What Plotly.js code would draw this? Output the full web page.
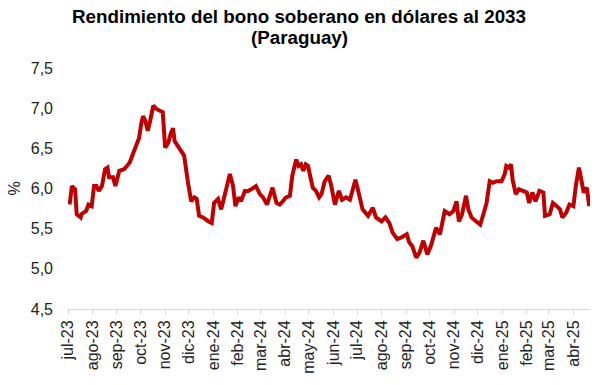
<!DOCTYPE html>
<html>
<head>
<meta charset="utf-8">
<script src="https://cdn.plot.ly/plotly-3.0.1.min.js"></script>
<style>html,body{margin:0;padding:0;background:#fff;}#chart{width:606px;height:385px;}</style>
</head>
<body>
<div id="chart"></div>
<script>
// Fecha / rendimiento (%)
const dates = [
 "2023-07-03","2023-07-06","2023-07-10","2023-07-12","2023-07-17","2023-07-18","2023-07-24","2023-07-27","2023-07-31",
 "2023-08-03","2023-08-06","2023-08-09","2023-08-13","2023-08-17","2023-08-20","2023-08-22","2023-08-27","2023-08-30",
 "2023-09-04","2023-09-10","2023-09-17","2023-09-23","2023-09-29",
 "2023-10-02","2023-10-04","2023-10-07","2023-10-10","2023-10-13","2023-10-17","2023-10-21","2023-10-25","2023-10-29",
 "2023-11-01","2023-11-05","2023-11-08","2023-11-11","2023-11-13","2023-11-19","2023-11-25","2023-11-30",
 "2023-12-04","2023-12-08","2023-12-11","2023-12-14","2023-12-19","2023-12-26","2023-12-30",
 "2024-01-02","2024-01-07","2024-01-11","2024-01-15","2024-01-19","2024-01-22","2024-01-26","2024-01-29",
 "2024-02-02","2024-02-05","2024-02-10","2024-02-14","2024-02-18","2024-02-24","2024-02-29",
 "2024-03-04","2024-03-09","2024-03-13","2024-03-16","2024-03-21","2024-03-25","2024-03-29",
 "2024-04-02","2024-04-07","2024-04-10","2024-04-15","2024-04-18","2024-04-21","2024-04-24","2024-04-27","2024-04-30",
 "2024-05-03","2024-05-06","2024-05-10","2024-05-14","2024-05-17","2024-05-21","2024-05-26","2024-05-29",
 "2024-06-03","2024-06-08","2024-06-12","2024-06-17","2024-06-22","2024-06-26","2024-06-29",
 "2024-07-02","2024-07-08","2024-07-15","2024-07-21","2024-07-25",
 "2024-08-01","2024-08-06","2024-08-11","2024-08-15","2024-08-21","2024-08-26",
 "2024-09-02","2024-09-05","2024-09-09","2024-09-14","2024-09-18","2024-09-23","2024-09-28",
 "2024-10-03","2024-10-09","2024-10-14","2024-10-20","2024-10-26","2024-10-31",
 "2024-11-04","2024-11-07","2024-11-11","2024-11-16","2024-11-19","2024-11-23","2024-11-29",
 "2024-12-04","2024-12-08","2024-12-12","2024-12-16","2024-12-20","2024-12-25","2024-12-31",
 "2025-01-04","2025-01-06","2025-01-09","2025-01-12","2025-01-14","2025-01-18","2025-01-22","2025-01-28",
 "2025-02-01","2025-02-04","2025-02-08","2025-02-12","2025-02-17","2025-02-22","2025-02-24",
 "2025-03-02","2025-03-06","2025-03-11","2025-03-15","2025-03-18","2025-03-23","2025-03-27",
 "2025-04-01","2025-04-04","2025-04-08","2025-04-11","2025-04-14","2025-04-18","2025-04-21"
];
const yields = [
 5.80,6.03,5.99,5.68,5.64,5.68,5.72,5.80,5.78,
 6.03,6.03,5.97,6.03,6.24,6.26,6.14,6.14,6.03,
 6.22,6.24,6.32,6.47,6.63,
 6.82,6.90,6.84,6.72,6.84,7.03,6.99,6.97,6.95,
 6.51,6.57,6.68,6.75,6.59,6.50,6.41,6.07,
 5.84,5.89,5.87,5.66,5.64,5.59,5.57,
 5.82,5.87,5.74,5.89,6.03,6.18,6.03,5.78,
 5.89,5.84,5.97,5.97,5.99,6.03,5.93,
 5.89,5.80,5.91,6.01,5.82,5.80,5.84,
 5.89,5.91,6.16,6.36,6.28,6.30,6.22,6.30,6.28,
 6.14,6.01,5.97,5.89,5.93,6.09,6.16,6.05,
 5.80,5.97,5.86,5.89,5.86,5.99,6.11,
 5.99,5.74,5.66,5.76,5.64,
 5.59,5.64,5.57,5.45,5.37,5.39,
 5.43,5.33,5.28,5.14,5.20,5.35,5.18,
 5.30,5.51,5.43,5.72,5.68,5.72,
 5.84,5.59,5.68,5.91,5.74,5.64,5.59,
 5.55,5.68,5.82,6.09,6.07,6.09,6.09,
 6.18,6.28,6.26,6.30,6.11,5.93,5.99,5.97,
 5.95,5.82,5.95,5.84,5.97,5.95,5.66,
 5.68,5.82,5.78,5.74,5.64,5.70,5.80,
 5.78,6.03,6.26,6.11,5.95,6.01,5.78
];
const tickDates = ["2023-07-01","2023-08-01","2023-09-01","2023-10-01","2023-11-01","2023-12-01",
 "2024-01-01","2024-02-01","2024-03-01","2024-04-01","2024-05-01","2024-06-01","2024-07-01",
 "2024-08-01","2024-09-01","2024-10-01","2024-11-01","2024-12-01","2025-01-01","2025-02-01",
 "2025-03-01","2025-04-01"];
const tickLabels = ["jul-23","ago-23","sep-23","oct-23","nov-23","dic-23","ene-24","feb-24","mar-24",
 "abr-24","may-24","jun-24","jul-24","ago-24","sep-24","oct-24","nov-24","dic-24","ene-25","feb-25",
 "mar-25","abr-25"];
const yTicks = [4.5,5.0,5.5,6.0,6.5,7.0,7.5];
const titleLines = ["Rendimiento del bono soberano en dólares al 2033", "(Paraguay)"];

const font = "Liberation Sans, Arial, sans-serif";
const titleFont = {family: font, size: 18.8, color: "#000"};
Plotly.newPlot("chart", [{
  x: dates, y: yields, type: "scatter", mode: "lines",
  line: {color: "#C00000", width: 4, shape: "linear"},
  hoverinfo: "skip"
}], {
  width: 606, height: 385,
  margin: {l: 68, r: 16, t: 68, b: 76, pad: 0},
  paper_bgcolor: "#fff", plot_bgcolor: "#fff",
  separators: ",.",
  showlegend: false,
  annotations: [
    {text: "<b>" + titleLines[0] + "</b>", xref: "paper", yref: "paper",
     x: (299 - 68) / 522, y: (309 - 16) / 241, xanchor: "center", yanchor: "middle",
     showarrow: false, font: titleFont},
    {text: "<b>" + titleLines[1] + "</b>", xref: "paper", yref: "paper",
     x: (299 - 68) / 522, y: (309 - 37) / 241, xanchor: "center", yanchor: "middle",
     showarrow: false, font: titleFont}
  ],
  xaxis: {
    type: "date", range: ["2023-07-01", "2025-04-22"],
    tickmode: "array", tickvals: tickDates, ticktext: tickLabels,
    tickangle: -90, tickfont: {family: font, size: 16, color: "#222"},
    ticks: "outside", ticklen: 4, tickcolor: "#d9d9d9", tickwidth: 1,
    showline: true, linecolor: "#d9d9d9", linewidth: 1,
    showgrid: false, zeroline: false, fixedrange: true
  },
  yaxis: {
    range: [4.5, 7.5], tickmode: "array", tickvals: yTicks, tickformat: ".1f",
    tickfont: {family: font, size: 16, color: "#222"},
    ticks: "", ticklabelstandoff: 14,
    showline: false, showgrid: false, zeroline: false, fixedrange: true,
    title: {text: "%", font: {family: font, size: 16, color: "#222"}, standoff: 6}
  }
}, {staticPlot: true, displayModeBar: false});
</script>
</body>
</html>
